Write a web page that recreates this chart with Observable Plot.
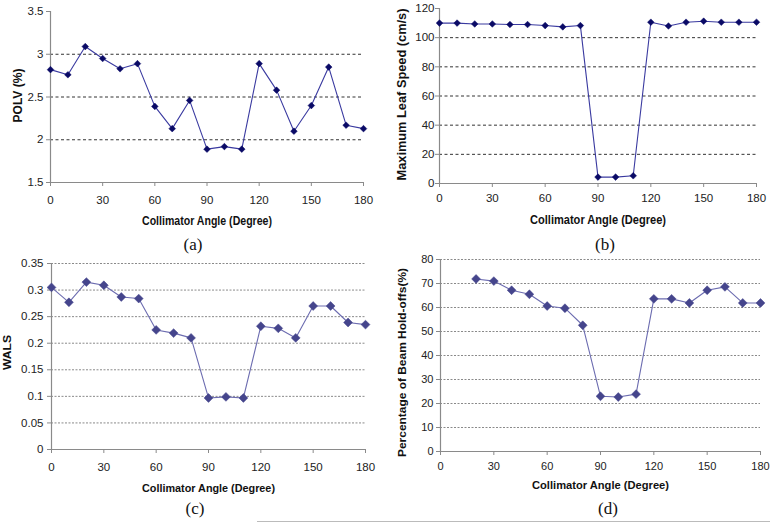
<!DOCTYPE html>
<html><head><meta charset="utf-8">
<script src="https://cdn.jsdelivr.net/npm/d3@7"></script>
<script src="https://cdn.jsdelivr.net/npm/@observablehq/plot@0.6"></script>
<style>
body{margin:0;background:#fff;}
#root{position:relative;width:770px;height:523px;overflow:hidden;background:#fff;}
.panel{position:absolute;}
.cap{position:absolute;font-family:"Liberation Serif","DejaVu Serif",serif;font-size:17px;color:#111;transform:translate(-50%,-50%);white-space:nowrap;}
.rule{position:absolute;left:257px;top:521px;width:513px;height:1px;background:#bbb;}
</style></head><body><div id="root"></div>
<script>
// ---- data ----
const angles = [0,10,20,30,40,50,60,70,80,90,100,110,120,130,140,150,160,170,180];
const polv = [2.82,2.76,3.09,2.95,2.83,2.89,2.39,2.13,2.46,1.89,1.92,1.89,2.89,2.58,2.10,2.40,2.85,2.17,2.13];
const leafSpeed = [110,110,109.4,109.4,109,109,108.3,107.4,108.3,4.4,4.4,5.3,110.6,108,110.6,111.3,110.6,110.6,110.6];
const wals = [0.305,0.277,0.315,0.309,0.287,0.284,0.225,0.219,0.210,0.097,0.099,0.097,0.232,0.228,0.210,0.270,0.270,0.239,0.235];
const holdoffAngles = [20,30,40,50,60,70,80,90,100,110,120,130,140,150,160,170,180];
const holdoffs = [71.9,71,67.2,65.5,60.6,59.7,52.6,23,22.7,23.9,63.6,63.6,61.9,67.2,68.6,61.9,61.9];

const xTicks = [0,30,60,90,120,150,180];
const polvTicks = [1.5,2,2.5,3,3.5];
const polvGrid = [2,2.5,3];
const speedTicks = [0,20,40,60,80,100,120];
const speedGrid = [20,40,60,80,100];
const walsTicks = [0,0.05,0.1,0.15,0.2,0.25,0.3,0.35];
const walsGrid = [0.05,0.1,0.15,0.2,0.25,0.3,0.35];
const holdTicks = [0,10,20,30,40,50,60,70,80];
const holdGrid = [10,20,30,40,50,60,70,80];

const xTitle = "Collimator Angle (Degree)";
const titles = {
  a: "POLV (%)",
  b: "Maximum Leaf Speed (cm/s)",
  c: "WALS",
  d: "Percentage of Beam Hold-offs(%)"
};
const captions = ["(a)","(b)","(c)","(d)"];

const root = document.getElementById("root");

function panel(o) {
  const data = o.xs.map((x, i) => ({x, y: o.ys[i]}));
  const svg = Plot.plot({
    width: o.width, height: o.height,
    marginLeft: o.ml, marginRight: o.mr, marginTop: o.mt, marginBottom: o.mb,
    style: {fontFamily: o.tickFont, fontSize: o.tickSize + "px", background: "transparent", overflow: "visible"},
    x: {domain: [0, 180], axis: null},
    y: {domain: o.yDomain, axis: null},
    marks: [
      Plot.ruleY(o.grid, {stroke: o.gridStroke, strokeDasharray: o.gridDash, strokeWidth: 1}),
      Plot.ruleX([0], {stroke: "#8a8a8a", strokeWidth: 1.2}),
      Plot.ruleY([o.yDomain[0]], {stroke: "#8a8a8a", strokeWidth: 1.2}),
      Plot.axisX({ticks: xTicks, tickSize: 4, tickPadding: o.padX, stroke: "#8a8a8a", fill: "#222", label: null, tickFormat: d => `${d}`}),
      Plot.axisY({ticks: o.yTicks, tickSize: 4, tickPadding: o.padY, stroke: "#8a8a8a", fill: "#222", label: null, tickFormat: d => `${d}`}),
      Plot.line(data, {x: "x", y: "y", stroke: o.line, strokeWidth: 1.1}),
      Plot.dot(data, {x: "x", y: "y", symbol: "diamond2", r: o.r, fill: o.dot, stroke: o.dot, strokeWidth: 0.5}),
      Plot.text([xTitle], {text: d => d, frameAnchor: "bottom", dy: o.xdy, textAnchor: "middle", lineAnchor: "middle",
        fontWeight: "bold", fontSize: o.titleSize, fontFamily: o.titleFont, fill: "#111"}),
      Plot.text([o.yTitle], {text: d => d, frameAnchor: "left", dx: o.ydx, dy: o.ydy, rotate: -90, textAnchor: "middle", lineAnchor: "middle",
        fontWeight: "bold", fontSize: o.titleSize, fontFamily: o.titleFont, fill: "#111"})
    ]
  });
  d3.select(svg).selectAll("text").each(function() {
    if (this.textContent === xTitle) d3.select(this).attr("textLength", o.xLen).attr("lengthAdjust", "spacingAndGlyphs");
    else if (this.textContent === o.yTitle) d3.select(this).attr("textLength", o.yLen).attr("lengthAdjust", "spacingAndGlyphs");
  });
  svg.classList.add("panel");
  svg.style.left = o.left + "px";
  svg.style.top = o.top + "px";
  root.appendChild(svg);
}

const narrow = "'Liberation Sans Narrow','Arial Narrow','Liberation Sans',Arial,sans-serif";
const sans = "'Liberation Sans',Arial,sans-serif";

panel({left: 0, top: 0, width: 385, height: 235, ml: 50, mr: 22, mt: 11, mb: 53,
  xs: angles, ys: polv, yDomain: [1.5, 3.5], yTicks: polvTicks, grid: polvGrid,
  gridStroke: "#333", gridDash: "3,2.5", line: "#3a3aa0", dot: "#0a0a66", r: 3,
  padX: 9, padY: 3, tickFont: sans, tickSize: 11.5, titleFont: narrow, titleSize: 12,
  xdy: 39, ydx: -32.5, ydy: -1.5, yTitle: titles.a, xLen: 130, yLen: 54});

panel({left: 385, top: 0, width: 385, height: 235, ml: 54, mr: 14, mt: 8, mb: 52,
  xs: angles, ys: leafSpeed, yDomain: [0, 120], yTicks: speedTicks, grid: speedGrid,
  gridStroke: "#333", gridDash: "3,2.5", line: "#3a3aa0", dot: "#0a0a66", r: 3,
  padX: 6, padY: 1, tickFont: sans, tickSize: 11.5, titleFont: narrow, titleSize: 12,
  xdy: 37, ydx: -37, ydy: -1.5, yTitle: titles.b, xLen: 136, yLen: 172});

panel({left: 0, top: 250, width: 385, height: 250, ml: 51, mr: 20, mt: 13, mb: 51,
  xs: angles, ys: wals, yDomain: [0, 0.35], yTicks: walsTicks, grid: walsGrid,
  gridStroke: "#8a8a8a", gridDash: "2,1.5", line: "#6c6cb0", dot: "#45458c", r: 4,
  padX: 9, padY: 4, tickFont: sans, tickSize: 11.5, titleFont: sans, titleSize: 11.5,
  xdy: 38.5, ydx: -44, ydy: -4, yTitle: titles.c, xLen: 133, yLen: 35});

panel({left: 385, top: 250, width: 385, height: 250, ml: 55, mr: 10, mt: 9, mb: 49,
  xs: holdoffAngles, ys: holdoffs, yDomain: [0, 80], yTicks: holdTicks, grid: holdGrid,
  gridStroke: "#8a8a8a", gridDash: "2,1.5", line: "#6c6cb0", dot: "#45458c", r: 4,
  padX: 7, padY: 3, tickFont: sans, tickSize: 11, titleFont: sans, titleSize: 11.5,
  xdy: 34, ydx: -38, ydy: 7, yTitle: titles.d, xLen: 137, yLen: 189});

const capPos = [[193, 245], [605, 245], [195, 509], [608, 509]];
captions.forEach((c, i) => {
  const el = document.createElement("div");
  el.className = "cap";
  el.textContent = c;
  el.style.left = capPos[i][0] + "px";
  el.style.top = capPos[i][1] + "px";
  root.appendChild(el);
});
const rule = document.createElement("div");
rule.className = "rule";
root.appendChild(rule);
</script>
</body></html>
